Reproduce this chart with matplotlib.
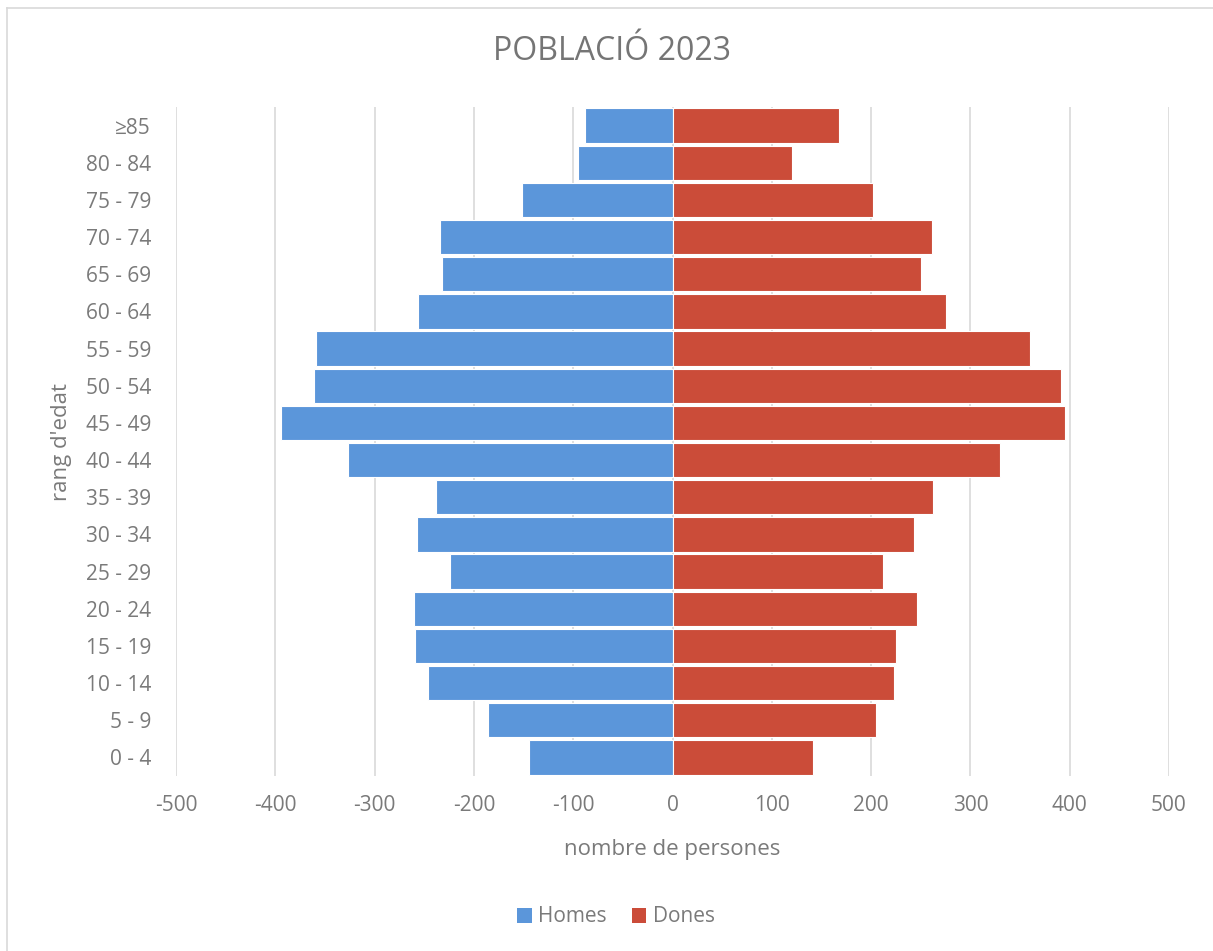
import numpy as np
import matplotlib
matplotlib.use('Agg')
import matplotlib.pyplot as plt
from matplotlib.patches import Patch

plt.rcParams['font.family'] = ['Open Sans', 'DejaVu Sans']
plt.rcParams['axes.unicode_minus'] = False

# rangs d'edat, de baix a dalt
edats = ['0 - 4', '5 - 9', '10 - 14', '15 - 19', '20 - 24', '25 - 29',
         '30 - 34', '35 - 39', '40 - 44', '45 - 49', '50 - 54', '55 - 59',
         '60 - 64', '65 - 69', '70 - 74', '75 - 79', '80 - 84', '≥85']
homes = [145, 186, 246, 259, 260, 224, 257, 238, 327, 394, 361, 359,
         256, 232, 234, 152, 95, 88]
dones = [141, 205, 223, 225, 246, 212, 243, 262, 330, 395, 391, 360,
         275, 250, 261, 202, 120, 168]
xticks = [-500, -400, -300, -200, -100, 0, 100, 200, 300, 400, 500]

blau = '#5B96DA'
vermell = '#CB4C39'
gris_text = '#7a7a7a'

fig = plt.figure(figsize=(12.13, 9.51), dpi=100)
ax = fig.add_axes([176/1213, 1-776/951, 993/1213, 669/951])

y = np.arange(len(edats))
ax.barh(y, -np.array(homes), height=0.92, color=blau, edgecolor='white', linewidth=0.8, zorder=3)
ax.barh(y, dones, height=0.92, color=vermell, edgecolor='white', linewidth=0.8, zorder=3)

ax.set_xlim(-500, 500)
ax.set_ylim(-0.5, len(edats)-0.5)
ax.set_xticks(xticks)
ax.set_yticks(y)
ax.set_yticklabels(edats)
ax.grid(axis='x', color='#d9d9d9', linewidth=1.2, zorder=0)
for s in ax.spines.values():
    s.set_visible(False)
ax.tick_params(axis='both', length=0, labelsize=15, labelcolor=gris_text)
ax.tick_params(axis='x', pad=14)
ax.tick_params(axis='y', pad=18)

ax.set_xlabel('nombre de persones', fontsize=16, color=gris_text, labelpad=16)
ax.set_ylabel("rang d'edat", fontsize=16, color=gris_text, labelpad=10)

fig.text(612/1213, 1-52/951, 'POBLACIÓ 2023', fontsize=23, color='#757575',
         ha='center', va='center')

handles = [Patch(facecolor=blau), Patch(facecolor=vermell)]
fig.legend(handles, ['Homes', 'Dones'], loc='center', bbox_to_anchor=(616/1213, 1-917/951),
           ncol=2, frameon=False, fontsize=15, handlelength=0.7, handleheight=0.7,
           handletextpad=0.3, columnspacing=1.2, labelcolor=gris_text)

# vora del gràfic
fig.add_artist(plt.Line2D([7/1213, 7/1213], [0, 1-8/951], color='#d9d9d9', linewidth=1.2))
fig.add_artist(plt.Line2D([7/1213, 1], [1-8/951, 1-8/951], color='#d9d9d9', linewidth=1.2))

fig.savefig('out.png', dpi=100)
